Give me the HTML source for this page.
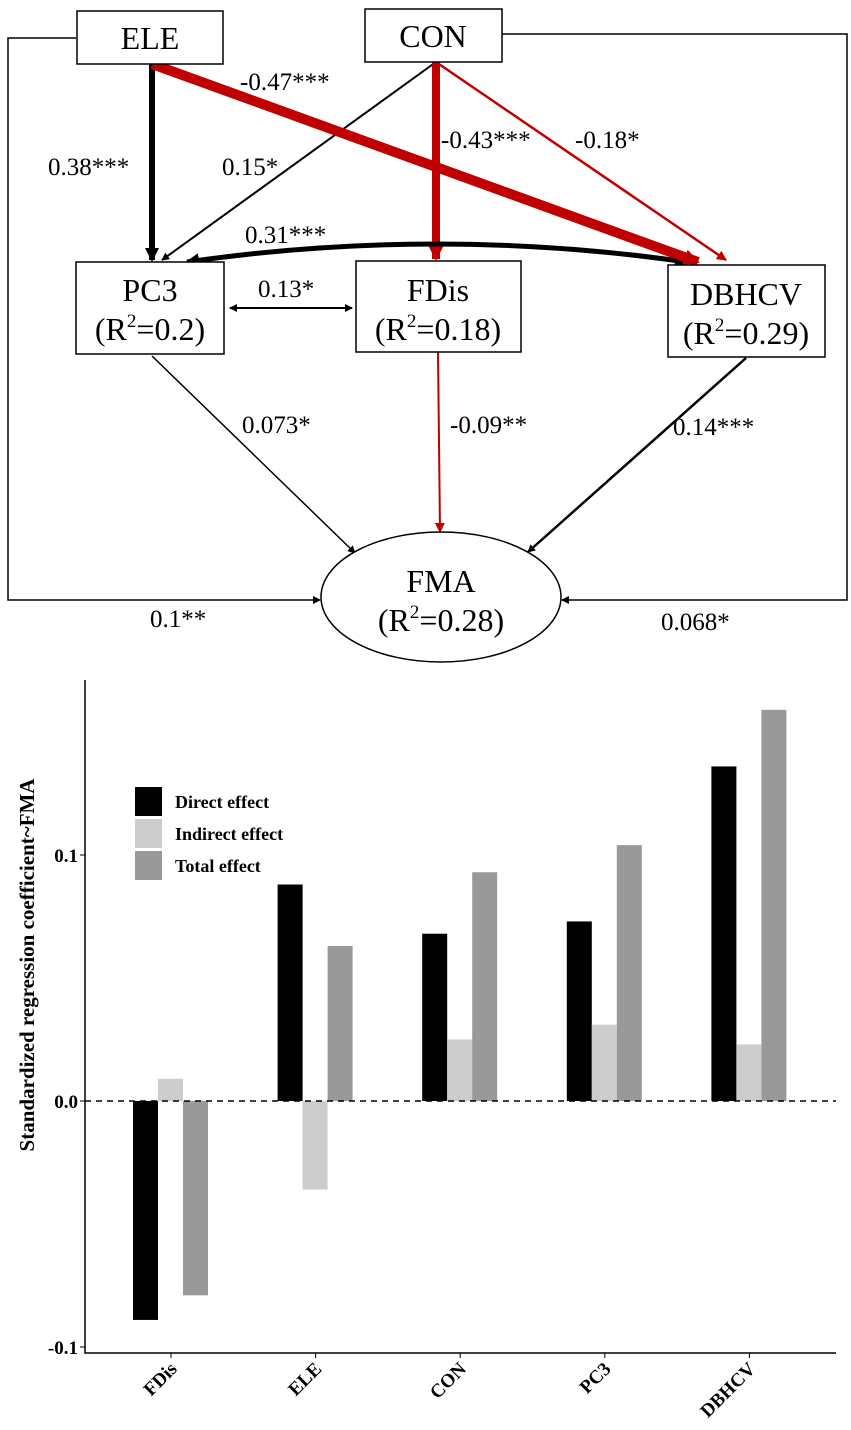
<!DOCTYPE html>
<html><head><meta charset="utf-8"><style>
html,body{margin:0;padding:0;background:#fff}
svg{display:block;font-family:"Liberation Serif",serif}
</style></head><body>
<svg width="851" height="1430" viewBox="0 0 851 1430">
<defs>
<marker id="ab2" markerWidth="8" markerHeight="8" refX="7" refY="4" orient="auto-start-reverse" markerUnits="userSpaceOnUse"><path d="M0,0 L8,4 L0,8 z" fill="#000"/></marker>
<marker id="ar2" markerWidth="10" markerHeight="10" refX="9" refY="5" orient="auto" markerUnits="userSpaceOnUse"><path d="M0,0 L10,5 L0,10 z" fill="#c00000"/></marker>
<marker id="ar3" markerWidth="16" markerHeight="16" refX="14" refY="8" orient="auto" markerUnits="userSpaceOnUse"><path d="M0,0 L16,8 L0,16 z" fill="#c00000"/></marker>
<marker id="ab3" markerWidth="14" markerHeight="14" refX="12" refY="7" orient="auto-start-reverse" markerUnits="userSpaceOnUse"><path d="M0,0 L14,7 L0,14 z" fill="#000"/></marker>
</defs>
<g>
<polyline points="76,38 8,38 8,600 320,600" fill="none" stroke="#000" stroke-width="1.5" marker-end="url(#ab2)"/>
<polyline points="502,34 847,34 847,600 562,600" fill="none" stroke="#000" stroke-width="1.5" marker-end="url(#ab2)"/>
<line x1="152" y1="64" x2="152" y2="260" stroke="#000" stroke-width="6" marker-end="url(#ab3)"/>
<line x1="436" y1="62" x2="162" y2="260" stroke="#000" stroke-width="2" marker-end="url(#ab2)"/>
<line x1="436" y1="62" x2="726" y2="260" stroke="#c00000" stroke-width="2.5" marker-end="url(#ar2)"/>
<line x1="436" y1="62" x2="436" y2="259" stroke="#c00000" stroke-width="8" marker-end="url(#ar3)"/>
<path d="M187,262 Q436,226 687,262" fill="none" stroke="#000" stroke-width="5" marker-end="url(#ab3)" marker-start="url(#ab3)"/>
<line x1="152" y1="64" x2="698" y2="262" stroke="#c00000" stroke-width="10" marker-end="url(#ar3)"/>
<line x1="230" y1="308" x2="352" y2="308" stroke="#000" stroke-width="2" marker-end="url(#ab2)" marker-start="url(#ab2)"/>
<line x1="152" y1="356" x2="355" y2="553" stroke="#000" stroke-width="1.5" marker-end="url(#ab2)"/>
<line x1="438" y1="352" x2="440" y2="532" stroke="#c00000" stroke-width="2" marker-end="url(#ar2)"/>
<line x1="746" y1="358" x2="528" y2="552" stroke="#000" stroke-width="2.5" marker-end="url(#ab2)"/>
<g><rect x="77" y="11" width="146" height="53" fill="#fff" stroke="#000" stroke-width="1.5"/><text x="150" y="49" font-size="32" text-anchor="middle">ELE</text></g>
<g><rect x="365" y="9" width="137" height="53" fill="#fff" stroke="#000" stroke-width="1.5"/><text x="433" y="47" font-size="32" text-anchor="middle">CON</text></g>
<g><rect x="76" y="262" width="148" height="92" fill="#fff" stroke="#000" stroke-width="1.5"/><text x="150" y="301" font-size="32" text-anchor="middle">PC3</text><text x="150" y="340" font-size="32" text-anchor="middle">(R<tspan font-size="19" dy="-13">2</tspan><tspan dy="13">=0.2)</tspan></text></g>
<g><rect x="356" y="261" width="165" height="91" fill="#fff" stroke="#000" stroke-width="1.5"/><text x="438" y="301" font-size="32" text-anchor="middle">FDis</text><text x="438" y="340" font-size="32" text-anchor="middle">(R<tspan font-size="19" dy="-13">2</tspan><tspan dy="13">=0.18)</tspan></text></g>
<g><rect x="668" y="265" width="157" height="92" fill="#fff" stroke="#000" stroke-width="1.5"/><text x="746" y="305" font-size="32" text-anchor="middle">DBHCV</text><text x="746" y="344" font-size="32" text-anchor="middle">(R<tspan font-size="19" dy="-13">2</tspan><tspan dy="13">=0.29)</tspan></text></g>
<g><ellipse cx="441" cy="597" rx="120" ry="65" fill="#fff" stroke="#000" stroke-width="1.5"/><text x="441" y="592" font-size="32" text-anchor="middle">FMA</text><text x="441" y="631" font-size="32" text-anchor="middle">(R<tspan font-size="19" dy="-13">2</tspan><tspan dy="13">=0.28)</tspan></text></g>
<g font-size="25" fill="#000">
<text x="240" y="90">-0.47***</text>
<text x="48" y="175">0.38***</text>
<text x="222" y="175">0.15*</text>
<text x="441" y="148">-0.43***</text>
<text x="575" y="148">-0.18*</text>
<text x="245" y="243">0.31***</text>
<text x="258" y="297">0.13*</text>
<text x="242" y="433">0.073*</text>
<text x="450" y="433">-0.09**</text>
<text x="673" y="435">0.14***</text>
<text x="150" y="627">0.1**</text>
<text x="661" y="630">0.068*</text>
</g>
</g>
<g id="chart"></g>
</svg>
<script>
const categories=["FDis","ELE","CON","PC3","DBHCV"];
const directEffect=[-0.089,0.088,0.068,0.073,0.136];
const indirectEffect=[0.009,-0.036,0.025,0.031,0.023];
const totalEffect=[-0.079,0.063,0.093,0.104,0.159];
const yTicks=[-0.1,0.0,0.1];
const yTickLabels=["-0.1","0.0","0.1"];
const legendLabels=["Direct effect","Indirect effect","Total effect"];
(function(){
const NS="http://www.w3.org/2000/svg";
const g=document.getElementById('chart');
const x0=85,x1=836,yTop=680,yBot=1353;
const y=v=>1101-v*2460;
const xc=i=>171+i*144.6;
const colors=["#000","#cccccc","#999999"];
const series=[directEffect,indirectEffect,totalEffect];
function mk(t,a){const e=document.createElementNS(NS,t);for(const k in a)e.setAttribute(k,a[k]);g.appendChild(e);return e;}
series.forEach((s,si)=>{s.forEach((v,i)=>{
const bx=xc(i)-38+si*25;
const r=mk('rect',{x:bx,y:Math.min(y(v),y(0)),width:25,height:Math.abs(y(v)-y(0)),fill:colors[si]});


});});
const z=mk('line',{x1:x0,x2:x1,y1:y(0),y2:y(0),stroke:'#000','stroke-width':1.5,'stroke-dasharray':'6,5'});


const ax=mk('path',{d:`M${x0},${yTop} L${x0},${yBot} L${x1},${yBot}`,fill:'none',stroke:'#000','stroke-width':1.5});


yTicks.forEach((t,i)=>{
mk('line',{x1:x0-5,x2:x0,y1:y(t),y2:y(t),stroke:'#000'});
const tx=mk('text',{x:x0-7,y:y(t)+7,'font-size':19,'font-weight':'bold','text-anchor':'end'});
tx.textContent=yTickLabels[i];


});
categories.forEach((c,i)=>{
mk('line',{x1:xc(i),x2:xc(i),y1:yBot,y2:yBot+5,stroke:'#000'});
const tx=mk('text',{'font-size':19,'font-weight':'bold','text-anchor':'end',transform:`translate(${xc(i)+7},${yBot+17}) rotate(-45)`});
tx.textContent=c;


});
const yl=mk('text',{'font-size':21,'font-weight':'bold','text-anchor':'middle',transform:'translate(34,965) rotate(-90)'});
yl.textContent='Standardized regression coefficient~FMA';


legendLabels.forEach((l,i)=>{
const r=mk('rect',{x:135,y:787+i*32,width:27,height:29,fill:colors[i]});


const t=mk('text',{x:175,y:808+i*32,'font-size':18,'font-weight':'bold'});
t.textContent=l;


});
})();
</script>
</body></html>
